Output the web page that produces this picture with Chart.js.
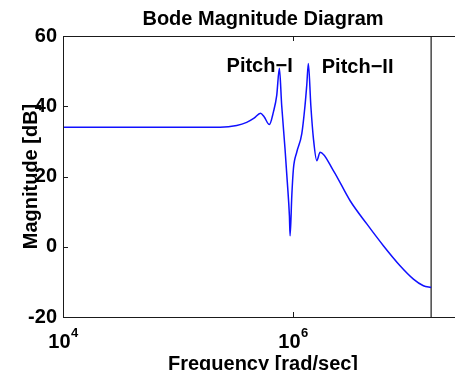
<!DOCTYPE html>
<html>
<head>
<meta charset="utf-8">
<script src="https://cdn.jsdelivr.net/npm/chart.js@4"></script>
<style>
  html, body { margin: 0; padding: 0; background: #fff; overflow: hidden; }
  canvas { display: block; }
</style>
</head>
<body>
<canvas id="bode" width="470" height="370"></canvas>
<script>
// Bode magnitude: frequency in rad/sec, magnitude in dB
const freq = [
  1e4, 5.71e4, 2.32e5, 3.24e5, 3.95e5, 4.58e5, 5.21e5, 5.60e5, 6.22e5, 6.75e5,
  7.21e5, 7.60e5, 7.96e5, 8.51e5, 8.91e5, 9.29e5, 9.42e5, 9.75e5, 1.007e6, 1.076e6,
  1.191e6, 1.271e6, 1.315e6, 1.358e6, 1.426e6, 1.503e6, 1.607e6, 1.718e6, 2.239e6, 3.133e6,
  4.375e6, 6.095e6, 8.51e6, 1.112e7, 1.358e7, 1.585e7
];
const magDb = [
  34.0, 34.0, 34.0, 34.5, 35.4, 36.6, 38.0, 37.0, 34.8, 38.4,
  43.1, 50.8, 40.3, 27.9, 18.4, 8.9, 3.1, 14.6, 22.2, 26.9,
  32.2, 40.3, 46.0, 52.2, 40.3, 30.8, 24.5, 26.9, 21.7, 13.1,
  6.5, 0.3, -5.4, -9.2, -11.1, -11.6
];

// axis limits and ticks
const freqMin = 1e4;
const freqMax = 3e7;
const freqTicks = [1e4, 1e6];
const magTicks = [-20, 0, 20, 40, 60];

// frequency where the plot is cut off by the vertical divider
const cutFreq = 1.585e7;

// mode labels
const modeNames = ['Pitch\u2212I', 'Pitch\u2212II'];
const modeFreq = [5.12e5, 3.64e6];
const modeDb = [49.7, 49.4];

const FONT = '"Liberation Sans", Arial, Helvetica, sans-serif';

const points = freq.map((f, i) => ({ x: f, y: magDb[i] }));

const decorations = {
  id: 'decorations',
  afterDraw(chart) {
    const c = chart.ctx;
    const a = chart.chartArea;
    const xs = chart.scales.x;
    const ys = chart.scales.y;
    c.save();

    // axes box
    c.strokeStyle = '#1a1a1a';
    c.lineWidth = 1;
    c.strokeRect(Math.round(a.left) + 0.5, Math.round(a.top) + 0.5,
      Math.round(a.right - a.left), Math.round(a.bottom - a.top));

    // inward tick marks
    c.beginPath();
    magTicks.forEach(v => {
      const y = Math.round(ys.getPixelForValue(v)) + 0.5;
      c.moveTo(a.left, y); c.lineTo(a.left + 5, y);
      c.moveTo(a.right, y); c.lineTo(a.right - 5, y);
    });
    freqTicks.forEach(f => {
      const x = Math.round(xs.getPixelForValue(f)) + 0.5;
      c.moveTo(x, a.bottom); c.lineTo(x, a.bottom - 5);
      c.moveTo(x, a.top); c.lineTo(x, a.top + 5);
    });
    c.stroke();

    c.fillStyle = '#000';

    // x tick labels as powers of ten
    freqTicks.forEach(f => {
      const x = xs.getPixelForValue(f);
      const exp = String(Math.round(Math.log10(f)));
      c.font = 'bold 20px ' + FONT;
      const wb = c.measureText('10').width;
      c.font = 'bold 13px ' + FONT;
      const we = c.measureText(exp).width;
      const x0 = x - (wb + we) / 2;
      c.textAlign = 'left';
      c.textBaseline = 'alphabetic';
      c.font = 'bold 20px ' + FONT;
      c.fillText('10', x0, a.bottom + 31);
      c.font = 'bold 13px ' + FONT;
      c.fillText(exp, x0 + wb + 0.5, a.bottom + 20);
    });

    const cx = (a.left + a.right) / 2;
    c.font = 'bold 20px ' + FONT;
    c.textAlign = 'center';
    c.textBaseline = 'alphabetic';

    // title and axis labels
    c.fillText('Bode Magnitude Diagram', cx, 25);
    c.fillText('Frequency [rad/sec]', cx, a.bottom + 53);
    c.save();
    c.translate(37, (a.top + a.bottom) / 2);
    c.rotate(-Math.PI / 2);
    c.fillText('Magnitude [dB]', 0, 0);
    c.restore();

    // resonance labels
    modeNames.forEach((name, i) => {
      c.fillText(name, xs.getPixelForValue(modeFreq[i]), ys.getPixelForValue(modeDb[i]));
    });

    c.restore();
  }
};

new Chart(document.getElementById('bode'), {
  type: 'line',
  data: {
    datasets: [
      {
        data: points,
        borderColor: '#1010ff',
        borderWidth: 1.5,
        pointRadius: 0,
        cubicInterpolationMode: 'monotone',
        fill: false
      },
      {
        data: [{ x: cutFreq, y: -20 }, { x: cutFreq, y: 60 }],
        borderColor: '#1a1a1a',
        borderWidth: 1.2,
        pointRadius: 0,
        fill: false
      }
    ]
  },
  options: {
    responsive: false,
    animation: false,
    devicePixelRatio: 1,
    layout: { padding: { top: 36, right: 7, left: 0, bottom: 0 } },
    plugins: { legend: { display: false }, tooltip: { enabled: false }, title: { display: false } },
    scales: {
      x: {
        type: 'logarithmic',
        min: freqMin,
        max: freqMax,
        ticks: { display: false },
        grid: { display: false, drawTicks: false },
        border: { display: false },
        afterFit(scale) { scale.height = 53; }
      },
      y: {
        min: -20,
        max: 60,
        afterBuildTicks(scale) { scale.ticks = magTicks.map(v => ({ value: v })); },
        ticks: { color: '#000', padding: 6, font: { family: FONT, size: 20, weight: 'bold' } },
        grid: { display: false, drawTicks: false },
        border: { display: false },
        afterFit(scale) { scale.width = 63; }
      }
    }
  },
  plugins: [decorations]
});
</script>
</body>
</html>
